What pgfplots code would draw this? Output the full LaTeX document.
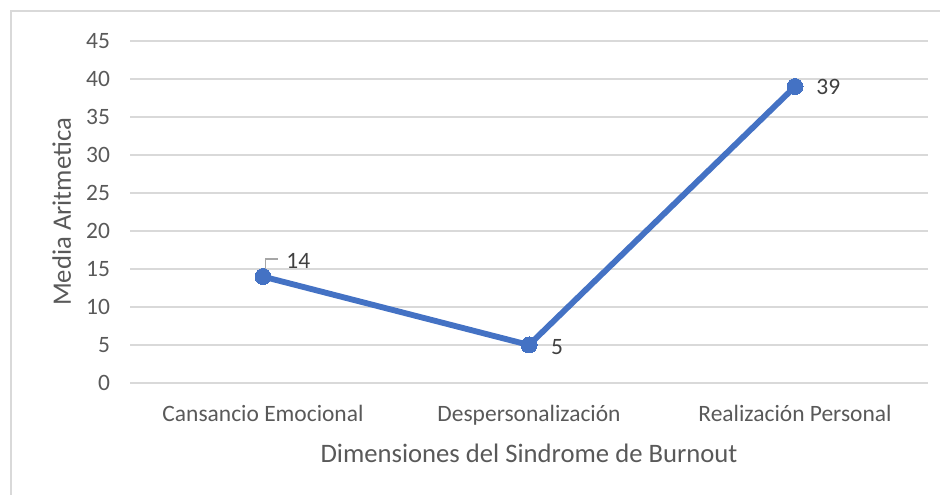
\documentclass[border=0pt]{standalone}
\usepackage{pgfplots}
\pgfplotsset{compat=1.18}
\usepackage{pgfplotstable}
\usepackage{fontspec}
\setmainfont{Carlito}

\definecolor{serie}{HTML}{4472C4}
\definecolor{rejilla}{HTML}{D9D9D9}
\definecolor{textogris}{HTML}{595959}
\definecolor{etiqueta}{HTML}{404040}
\definecolor{guia}{HTML}{A6A6A6}

% mean score per dimension, with the offset (pt) of each value label
\pgfplotstableread{
x y dx dy
0 14 26.5 12
1 5 21 -1.5
2 39 25 0
}\medias

\begin{document}
\begin{tikzpicture}
\useasboundingbox (0pt,0pt) rectangle (705pt,371.25pt);
\draw[rejilla, line width=1.2pt] (8.25pt,0pt) -- (8.25pt,363pt) -- (705pt,363pt);
\begin{axis}[
  at={(97.5pt,84pt)}, anchor=south west,
  scale only axis, width=598.5pt, height=256.5pt,
  xmin=-0.5, xmax=2.5, ymin=0, ymax=45,
  ytick={0,5,...,45},
  xtick={0,1,2},
  xticklabels={Cansancio Emocional, Despersonalización, Realización Personal},
  axis line style={draw=none},
  major tick length=0pt,
  ymajorgrids, grid style={rejilla, line width=0.9pt},
  tick label style={font=\fontsize{17.6}{20}\selectfont, text=textogris},
  /pgf/number format/assume math mode=true,
  yticklabel style={xshift=-11.5pt},
  xticklabel style={yshift=-13.5pt},
  xlabel={Dimensiones del Sindrome de Burnout},
  ylabel={Media Aritmetica},
  label style={font=\fontsize{20}{24}\selectfont, text=textogris},
  xlabel style={yshift=-6.5pt},
  ylabel style={yshift=4.5pt},
  clip=false,
]
\addplot[serie, line width=4.4pt, mark=*, mark size=6pt,
  mark options={fill=serie, draw=serie, line width=0pt},
  visualization depends on={\thisrow{dx} \as \dx},
  visualization depends on={\thisrow{dy} \as \dy},
  nodes near coords,
  every node near coord/.append style={anchor=center, xshift=\dx pt, yshift=\dy pt,
    font=\fontsize{17.6}{20}\selectfont, text=etiqueta},
  point meta=explicit,
] table[x=x, y=y, meta=y] {\medias};
% leader line for the first label
\draw[guia, line width=1.1pt] (axis cs:0.010,14.2) -- (axis cs:0.010,16.3) -- (axis cs:0.058,16.3);
\end{axis}
\end{tikzpicture}
\end{document}
